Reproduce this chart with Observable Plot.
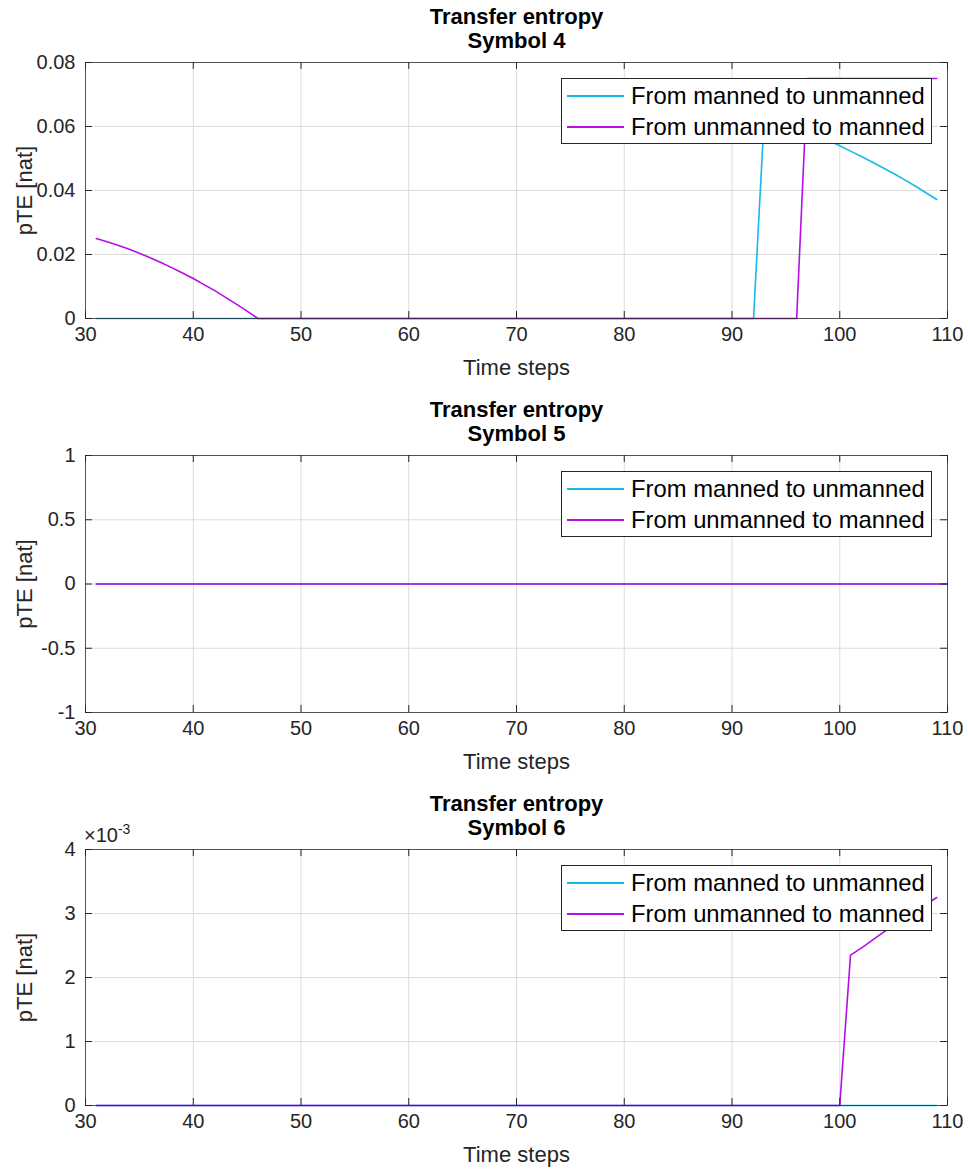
<!DOCTYPE html>
<html>
<head>
<meta charset="utf-8">
<script src="https://cdn.jsdelivr.net/npm/d3@7"></script>
<script src="https://cdn.jsdelivr.net/npm/@observablehq/plot@0.6"></script>
<style>
  body { margin: 0; background: #fff; font-family: "Liberation Sans", Arial, sans-serif; }
  .panel { position: relative; width: 968px; }
  .panel svg { display: block; }
  .legend { position: absolute; background: #fff; border: 1px solid #262626; box-sizing: border-box; padding: 2px 6px 2px 5px; font-size: 23.8px; color: #000; }
  .legend .row { display: flex; align-items: center; height: 30.5px; white-space: nowrap; }
  .legend .sw { width: 57px; height: 2px; margin-right: 7px; flex: none; }
  .exp { position: absolute; font-size: 20px; color: #262626; }
</style>
</head>
<body>
<div id="chart"></div>
<script>
// ---- data ----
const seriesNames = ["From manned to unmanned", "From unmanned to manned"];
const seriesColors = ["#16b9ec", "#b60ee8"];
const xTicks = [30, 40, 50, 60, 70, 80, 90, 100, 110];

// Symbol 4 (time steps 31..109)
const s4Manned = [
  0,0,0,0,0,0,0,0,0,0, 0,0,0,0,0,0,0,0,0,0, 0,0,0,0,0,0,0,0,0,0, 0,0,0,0,0,0,0,0,0,0,
  0,0,0,0,0,0,0,0,0,0, 0,0,0,0,0,0,0,0,0,0, 0,0,
  0.0638,0.0626,0.0613,0.0600,0.0586,0.0571,0.0556,0.0540,0.0523,0.0506,0.0489,0.0471,0.0453,0.0434,0.0414,0.0393,0.0372
];
const s4Unmanned = [
  0.0250,0.0240,0.0229,0.0217,0.0204,0.0190,0.0175,0.0159,0.0142,0.0125,0.0106,0.0087,0.0066,0.0045,0.0023,0,
  0,0,0,0,0,0,0,0,0,0, 0,0,0,0,0,0,0,0,0,0, 0,0,0,0,0,0,0,0,0,0, 0,0,0,0,0,0,0,0,0,0,
  0,0,0,0,0,0,0,0,0,0,
  0.075,0.075,0.075,0.075,0.075,0.075,0.075,0.075,0.075,0.075,0.075,0.075,0.075
];
// Symbol 5 (time steps 31..110): all zero
const s5Manned = new Array(80).fill(0);
const s5Unmanned = new Array(80).fill(0);
// Symbol 6 (time steps 31..109)
const s6Manned = new Array(79).fill(0);
const s6Unmanned = [
  0,0,0,0,0,0,0,0,0,0, 0,0,0,0,0,0,0,0,0,0, 0,0,0,0,0,0,0,0,0,0, 0,0,0,0,0,0,0,0,0,0,
  0,0,0,0,0,0,0,0,0,0, 0,0,0,0,0,0,0,0,0,0, 0,0,0,0,0,0,0,0,0,0,
  0.00235,0.00246,0.00258,0.00270,0.00282,0.00293,0.00304,0.00314,0.00325
];

const panels = [
  {title: "Symbol 4", a: s4Manned, b: s4Unmanned, yDomain: [0, 0.08], yTicks: [0, 0.02, 0.04, 0.06, 0.08], yFmt: d => d === 0 ? "0" : d.toFixed(2), height: 393},
  {title: "Symbol 5", a: s5Manned, b: s5Unmanned, yDomain: [-1, 1], yTicks: [-1, -0.5, 0, 0.5, 1], yFmt: d => String(d), height: 394},
  {title: "Symbol 6", a: s6Manned, b: s6Unmanned, yDomain: [0, 0.004], yTicks: [0, 0.001, 0.002, 0.003, 0.004], yFmt: d => String(Math.round(d * 1000)), height: 383, exp: true}
];

const W = 968, mL = 85, mR = 21, mT = 62;
const root = document.getElementById("chart");

for (const p of panels) {
  const plotH = p.height === 394 ? 257 : 256;
  const mB = p.height - mT - plotH;
  const rows = [];
  p.a.forEach((v, i) => rows.push({t: 31 + i, v, s: seriesNames[0]}));
  p.b.forEach((v, i) => rows.push({t: 31 + i, v, s: seriesNames[1]}));
  const A = rows.filter(d => d.s === seriesNames[0]);
  const B = rows.filter(d => d.s === seriesNames[1]);
  const tickLen = 7;
  const svg = Plot.plot({
    width: W, height: p.height,
    marginLeft: mL, marginRight: mR, marginTop: mT, marginBottom: mB,
    style: {fontFamily: "Liberation Sans, Arial, sans-serif", background: "#fff", overflow: "visible"},
    x: {domain: [30, 110], ticks: xTicks},
    y: {domain: p.yDomain, ticks: p.yTicks},
    marks: [
      Plot.gridX(xTicks, {stroke: "#dcdcdc", strokeOpacity: 1, strokeWidth: 1}),
      Plot.gridY(p.yTicks, {stroke: "#dcdcdc", strokeOpacity: 1, strokeWidth: 1}),
      Plot.line(A, {x: "t", y: "v", stroke: seriesColors[0], strokeWidth: 1.6}),
      Plot.line(B, {x: "t", y: "v", stroke: seriesColors[1], strokeWidth: 1.6}),
      Plot.frame({stroke: "#262626", strokeWidth: 1, strokeOpacity: 0.75}),
      Plot.tickX(xTicks, {x: d => d, insetTop: plotH - tickLen, stroke: "#262626"}),
      Plot.tickX(xTicks, {x: d => d, insetBottom: plotH - tickLen, stroke: "#262626"}),
      Plot.tickY(p.yTicks, {y: d => d, insetRight: (W - mL - mR) - tickLen, stroke: "#262626"}),
      Plot.tickY(p.yTicks, {y: d => d, insetLeft: (W - mL - mR) - tickLen, stroke: "#262626"}),
      Plot.axisX(xTicks, {tickSize: 0, tickPadding: 8, fontSize: 20, fill: "#262626", label: null}),
      Plot.axisY(p.yTicks, {tickSize: 0, tickPadding: 10, fontSize: 20, fill: "#262626", tickFormat: p.yFmt, label: null}),
      Plot.text(["Time steps"], {frameAnchor: "bottom", lineAnchor: "middle", dy: 49, fontSize: 22, fill: "#262626"}),
      Plot.text(["pTE [nat]"], {frameAnchor: "left", textAnchor: "middle", lineAnchor: "middle", dx: -61, rotate: -90, fontSize: 22, fill: "#262626"}),
      Plot.text(["Transfer entropy\n" + p.title], {frameAnchor: "top", lineAnchor: "middle", dy: -34.5, fontSize: 22, lineHeight: 1.1, fontWeight: "bold", fill: "#000"})
    ]
  });
  const div = document.createElement("div");
  div.className = "panel";
  div.appendChild(svg);
  const lg = document.createElement("div");
  lg.className = "legend";
  lg.style.top = (mT + 16) + "px";
  lg.style.right = (mR + 15) + "px";
  lg.style.width = "371px";
  lg.style.height = "66px";
  seriesNames.forEach((n, i) => {
    const r = document.createElement("div");
    r.className = "row";
    const sw = document.createElement("div");
    sw.className = "sw";
    sw.style.background = seriesColors[i];
    const tx = document.createElement("span");
    tx.textContent = n;
    r.appendChild(sw); r.appendChild(tx);
    lg.appendChild(r);
  });
  div.appendChild(lg);
  if (p.exp) {
    const e = document.createElement("div");
    e.className = "exp";
    e.style.left = "84px";
    e.style.top = (mT - 28) + "px";
    e.innerHTML = "&times;10<sup style='font-size:14px'>-3</sup>";
    div.appendChild(e);
  }
  root.appendChild(div);
}
</script>
</body>
</html>
